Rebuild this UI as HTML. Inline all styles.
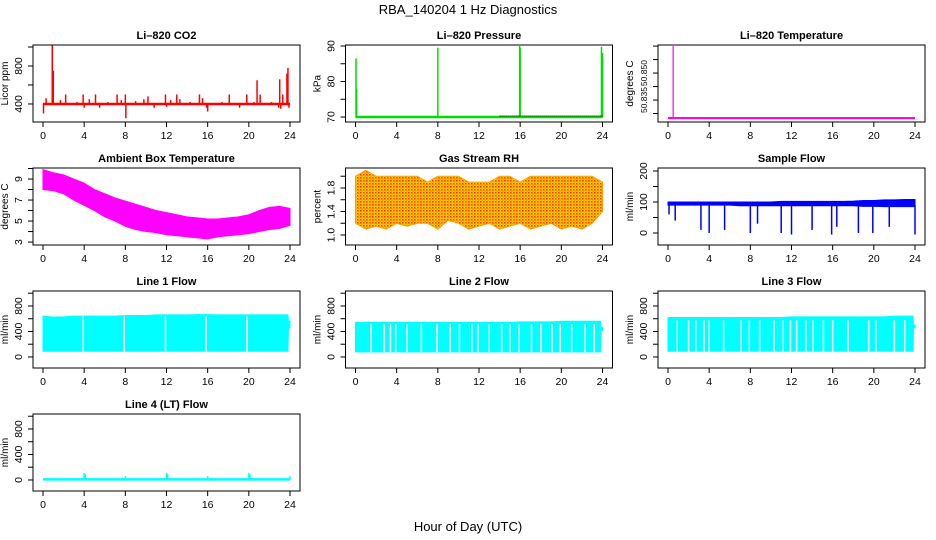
<!DOCTYPE html>
<html><head><meta charset="utf-8"><style>
body{margin:0;background:#fff}
svg{display:block;font-family:"Liberation Sans",Arial,sans-serif}
</style></head><body>
<svg id="c" width="936" height="540" viewBox="0 0 936 540">
<defs>
<pattern id="rhpat" width="3" height="3" patternUnits="userSpaceOnUse">
<rect width="3" height="3" fill="#ffd400"/><rect width="1.5" height="1.5" fill="#ff3000"/><rect x="1.5" y="1.5" width="1" height="1" fill="#ff5000"/>
</pattern>
</defs>
<text x="468" y="14" font-size="13" text-anchor="middle">RBA_140204  1 Hz Diagnostics</text>
<text x="468" y="531" font-size="13" text-anchor="middle">Hour of Day (UTC)</text>
</svg>
<script>
// ---- data ----
const xTicks=[0,4,8,12,16,20,24];
const co2Base=400;
const co2SpikeHours=[0.05,0.3,0.9,1.0,1.7,2.2,3.3,3.9,4.0,4.5,5.1,5.5,6.3,7.2,7.6,8.0,8.05,9.0,9.8,10.2,10.8,11.4,11.9,12.0,12.4,13.0,13.3,14.3,15.2,15.5,15.9,16.0,17.4,18.1,19.1,19.8,20.5,20.8,21.1,22.2,22.9,23.0,23.1,23.3,23.7,23.8,23.9];
const co2SpikeVals=[300,460,1020,750,440,500,420,500,360,450,500,360,420,500,440,500,250,430,450,480,360,410,500,370,440,500,450,420,500,460,360,320,420,500,360,500,420,650,500,420,360,660,350,500,720,780,360];
const presBase=70;
const presSpikeHours=[0.05,0.1,8.0,15.95,16.0,23.9,24.0];
const presSpikeVals=[86.5,78,89.5,90,89.5,89.8,88];
const tempBase=50.825;
const tempSpikeHours=[0.5];
const tempSpikeVals=[50.865];
const ambHours=[0,1,2,3,4,5,6,7,8,9,10,11,12,13,14,15,16,17,18,19,20,21,22,23,24];
const ambHi=[9.9,9.6,9.4,9.0,8.6,8.0,7.6,7.2,6.9,6.6,6.3,6.0,5.8,5.6,5.4,5.3,5.2,5.2,5.3,5.4,5.6,6.0,6.3,6.4,6.2];
const ambLo=[8.0,7.9,7.6,7.0,6.5,6.0,5.4,5.0,4.5,4.2,4.0,3.9,3.7,3.6,3.5,3.4,3.3,3.5,3.6,3.7,3.8,4.0,4.2,4.3,4.6];
const rhHi=[2.0,2.1,2.0,2.0,2.0,2.0,2.0,1.9,2.0,2.0,2.0,1.9,1.9,1.9,2.0,2.0,1.9,2.0,2.0,2.0,2.0,2.0,2.0,2.0,1.9];
const rhLo=[1.2,1.1,1.15,1.1,1.2,1.15,1.2,1.2,1.1,1.25,1.2,1.1,1.15,1.2,1.1,1.15,1.2,1.1,1.15,1.2,1.1,1.15,1.1,1.2,1.4];
const sfHi=[100,100,100,100,100,100,100,100,100,100,100,102,102,102,102,102,102,102,103,105,105,107,107,108,108];
const sfLo=[90,90,90,90,90,90,90,88,88,88,88,88,88,88,88,88,88,88,88,86,86,85,85,85,85];
const sfDipHours=[0.1,0.7,3.2,4.0,5.5,8.0,8.7,11.0,12.0,14.0,15.9,16.4,18.5,19.9,21.5,24.0];
const sfDipVals=[60,40,10,0,10,0,30,0,-5,10,-5,20,0,0,20,-5];
const flowHours=[0,1,2,3,4,5,6,7,8,9,10,11,12,13,14,15,16,17,18,19,20,21,22,23,23.8,23.85,24];
const l1Hi=[640,625,630,640,640,640,640,640,650,650,650,660,660,660,660,665,665,660,660,660,660,660,660,660,660,560,560];
const l1Lo=[90,90,90,90,90,90,90,90,90,90,90,90,90,90,90,90,90,90,90,90,90,90,90,90,90,460,460];
const l1Gaps=[3.9,7.9,11.9,15.85,19.8];
const l2Hi=[540,540,540,540,540,540,540,540,540,540,540,540,540,540,540,540,550,550,550,550,560,560,560,560,560,460,460];
const l2Lo=[80,80,80,80,80,80,80,80,80,80,80,80,80,80,80,80,80,80,80,80,80,80,80,80,80,420,420];
const l2Gaps=[1.5,2.8,3.4,3.9,5.0,6.4,7.9,9.2,10.1,11.3,11.9,13.0,14.2,15.0,15.9,17.1,18.0,19.1,19.9,21.0,22.3,23.2];
const l3Hi=[620,620,620,620,620,620,620,620,620,620,620,620,630,630,630,630,630,630,630,630,630,630,640,640,640,500,500];
const l3Lo=[90,90,90,90,90,90,90,90,90,90,90,90,90,90,90,90,90,90,90,90,90,90,90,90,90,460,460];
const l3Gaps=[0.9,2.0,2.7,3.5,4.0,5.4,7.1,7.9,8.9,10.3,11.2,11.9,12.5,13.4,14.1,15.1,16.0,17.5,19.5,20.2,22.0,23.0];
const l4Base=10;
const l4SpikeHours=[4.0,4.1,8.0,12.0,12.1,16.0,20.0,20.1,24.0];
const l4SpikeVals=[110,90,60,110,90,60,110,90,60];

// ---- layout ----
const svg=document.getElementById('c');
const NS='http://www.w3.org/2000/svg';
const colX=[33,345.5,658], rowY=[45,168,291,414], W=267, H=77;
function el(t,a,p){const e=document.createElementNS(NS,t);for(const k in a)e.setAttribute(k,a[k]);(p||svg).appendChild(e);return e;}

function panel(o){
  const bx=colX[o.col], by=rowY[o.row];
  const g=el('g',{});
  
  
  const x=h=>bx+10+h/24*(W-20);
  const y=v=>by+(o.ymax-v)/(o.ymax-o.ymin)*H;
  const clip=el('g',{});
  g.appendChild(clip);
  o.draw(clip,x,y);
  const box=el('rect',{x:bx,y:by,width:W,height:H,fill:'none',stroke:'#000','stroke-width':1},g);
  
  
  const t=el('text',{x:bx+W/2,y:by-6,'font-size':11,'font-weight':'bold','text-anchor':'middle'},g);
  t.textContent=o.title;
  
  
  xTicks.forEach(h=>{
    el('line',{x1:x(h),x2:x(h),y1:by+H,y2:by+H+5,stroke:'#000'},g);
    const tl=el('text',{x:x(h),y:by+H+17,'font-size':10.5,'text-anchor':'middle'},g);
    tl.textContent=h;
    
    
  });
  o.yTicks.forEach(v=>{el('line',{x1:bx-5,x2:bx,y1:y(v),y2:y(v),stroke:'#000'},g);});
  o.yLabels.forEach((v,i)=>{
    const lx=bx-11, ly=y(v);
    const tl=el('text',{x:lx,y:ly,'font-size':o.yfs||10.5,'text-anchor':'middle',transform:`rotate(-90 ${lx} ${ly})`},g);
    tl.textContent=o.yLabelText?o.yLabelText[i]:v;
    
    
  });
  const yl=bx-25, yly=by+H/2;
  const yt=el('text',{x:yl,y:yly,'font-size':10,'text-anchor':'middle',transform:`rotate(-90 ${yl} ${yly})`},g);
  yt.textContent=o.ylab;
  
  
}
function spikes(g,x,y,base,hs,vs,col,w){
  el('line',{x1:x(0),x2:x(24),y1:y(base),y2:y(base),stroke:col,'stroke-width':w+1},g);
  hs.forEach((h,i)=>{const l=el('line',{x1:x(h),x2:x(h),y1:y(base),y2:y(vs[i]),stroke:col,'stroke-width':w},g);
    
    });
}
function band(g,x,y,hs,hi,lo,fill){
  let d='M'+hs.map((h,i)=>x(h)+','+y(hi[i])).join('L');
  for(let i=hs.length-1;i>=0;i--)d+='L'+x(hs[i])+','+y(lo[i]);
  const p=el('path',{d:d+'Z',fill:fill,stroke:fill==='url(#rhpat)'?'#ffa000':fill,'stroke-width':1},g);
  
  
}
function gaps(g,x,y,gs,hi,lo){
  gs.forEach(h=>{const l=el('line',{x1:x(h),x2:x(h),y1:y(hi)-1,y2:y(lo)+1,stroke:'#fff','stroke-width':1.5},g);
    
    });
}

panel({name:'co2-panel',col:0,row:0,title:'Li–820 CO2',ylab:'Licor ppm',ymax:1021,ymin:210,yTicks:[400,600,800,1000],yLabels:[400,800],
  draw:(g,x,y)=>spikes(g,x,y,co2Base,co2SpikeHours,co2SpikeVals,'#ff0000',1.5)});
panel({name:'pressure-panel',col:1,row:0,title:'Li–820 Pressure',ylab:'kPa',ymax:90.28,ymin:68.6,yTicks:[70,75,80,85,90],yLabels:[70,80,90],
  draw:(g,x,y)=>{spikes(g,x,y,presBase,presSpikeHours,presSpikeVals,'#00dd00',1.5);
    el('line',{x1:x(14),x2:x(24),y1:y(70.3),y2:y(70.3),stroke:'#000','stroke-width':1,'stroke-dasharray':'1 1'},g);}});
panel({name:'li820-temperature-panel',col:2,row:0,title:'Li–820 Temperature',ylab:'degrees C',ymax:50.8656,ymin:50.8228,yTicks:[50.8275,50.835,50.8425,50.85,50.8575,50.865],yLabels:[50.835,50.85],yLabelText:['50.835','50.850'],yfs:8.5,
  draw:(g,x,y)=>spikes(g,x,y,tempBase,tempSpikeHours,tempSpikeVals,'#ff00ff',1.2)});
panel({name:'ambient-temperature-panel',col:0,row:1,title:'Ambient Box Temperature',ylab:'degrees C',ymax:10.05,ymin:2.72,yTicks:[3,4,5,6,7,8,9,10],yLabels:[3,5,7,9],
  draw:(g,x,y)=>band(g,x,y,ambHours,ambHi,ambLo,'#ff00ff')});
panel({name:'rh-panel',col:1,row:1,title:'Gas Stream RH',ylab:'percent',ymax:2.14,ymin:0.83,yTicks:[1.0,1.2,1.4,1.6,1.8,2.0],yLabels:[1.0,1.4,1.8],yLabelText:['1.0','1.4','1.8'],
  draw:(g,x,y)=>band(g,x,y,ambHours,rhHi,rhLo,'url(#rhpat)')});
panel({name:'sample-flow-panel',col:2,row:1,title:'Sample Flow',ylab:'ml/min',ymax:209.7,ymin:-38.7,yTicks:[0,50,100,150,200],yLabels:[0,100,200],
  draw:(g,x,y)=>{band(g,x,y,ambHours,sfHi,sfLo,'#0000ff');
    sfDipHours.forEach((h,i)=>{const l=el('line',{x1:x(h),x2:x(h),y1:y(90),y2:y(sfDipVals[i]),stroke:'#0000ff','stroke-width':1.5},g);
      
      });}});
const flowTicks=[0,200,400,600,800,1000];
panel({name:'line1-flow-panel',col:0,row:2,title:'Line 1 Flow',ylab:'ml/min',ymax:1035,ymin:-173,yTicks:flowTicks,yLabels:[0,400,800],
  draw:(g,x,y)=>{band(g,x,y,flowHours,l1Hi,l1Lo,'#00ffff');gaps(g,x,y,l1Gaps,620,100);}});
panel({name:'line2-flow-panel',col:1,row:2,title:'Line 2 Flow',ylab:'ml/min',ymax:1035,ymin:-173,yTicks:flowTicks,yLabels:[0,400,800],
  draw:(g,x,y)=>{band(g,x,y,flowHours,l2Hi,l2Lo,'#00ffff');gaps(g,x,y,l2Gaps,500,90);}});
panel({name:'line3-flow-panel',col:2,row:2,title:'Line 3 Flow',ylab:'ml/min',ymax:1035,ymin:-173,yTicks:flowTicks,yLabels:[0,400,800],
  draw:(g,x,y)=>{band(g,x,y,flowHours,l3Hi,l3Lo,'#00ffff');gaps(g,x,y,l3Gaps,560,100);}});
panel({name:'line4-flow-panel',col:0,row:3,title:'Line 4 (LT) Flow',ylab:'ml/min',ymax:1035,ymin:-173,yTicks:flowTicks,yLabels:[0,400,800],
  draw:(g,x,y)=>spikes(g,x,y,l4Base,l4SpikeHours,l4SpikeVals,'#00ffff',1.5)});
</script>
</body></html>
